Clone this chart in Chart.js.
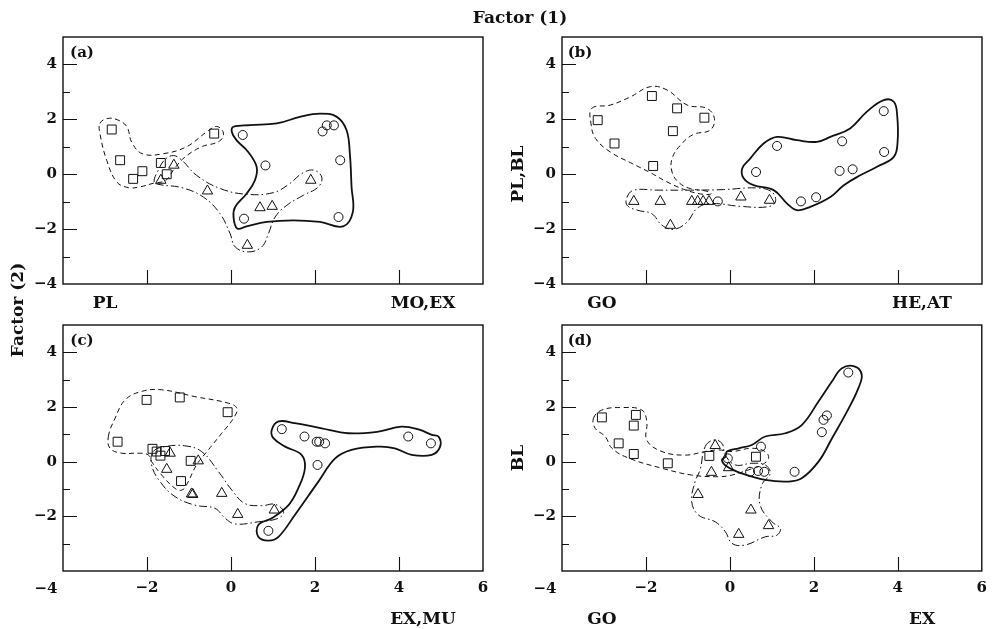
<!DOCTYPE html>
<html>
<head>
<meta charset="utf-8">
<script src="https://cdn.jsdelivr.net/npm/chart.js@4.4.1/dist/chart.umd.min.js"></script>
<style>
  body { margin: 0; background: #fff; }
  #wrap { position: relative; width: 995px; height: 629px; overflow: hidden; }
  #wrap canvas { position: absolute; left: 0; top: 0; }
  .lbl { position: absolute; font-family: "DejaVu Serif", serif; font-weight: bold; color: #111; white-space: nowrap; transform: translate(-50%, -50%); }
  .rot { transform: translate(-50%, -50%) rotate(-90deg); }
</style>
</head>
<body>
<div id="wrap">
  <canvas id="chartA" width="995" height="629"></canvas>
  <canvas id="chartB" width="995" height="629"></canvas>
  <canvas id="chartC" width="995" height="629"></canvas>
  <canvas id="chartD" width="995" height="629"></canvas>
</div>
<script>
// ---- panel (a): PL vs MO,EX
const aSquares = [[-2.84,1.63],[-2.64,0.51],[-2.33,-0.17],[-2.11,0.11],[-1.67,0.41],[-1.53,0.0],[-0.40,1.48]];
const aTriangles = [[-1.36,0.33],[-1.67,-0.22],[-0.56,-0.61],[0.69,-1.22],[0.98,-1.17],[0.39,-2.59],[1.90,-0.22]];
const aCircles = [[0.28,1.43],[0.82,0.32],[0.31,-1.62],[2.18,1.56],[2.28,1.78],[2.45,1.78],[2.60,0.51],[2.56,-1.56]];
const aSquareHull = [[-3.12,1.85],[-2.95,2.03],[-2.70,1.98],[-2.48,1.73],[-2.36,1.15],[-2.10,0.74],[-1.60,0.75],[-1.06,1.0],[-0.58,1.54],[-0.34,1.74],[-0.18,1.50],[-0.28,1.20],[-0.70,1.0],[-1.10,0.62],[-1.35,0.20],[-1.55,-0.22],[-1.85,-0.33],[-2.17,-0.46],[-2.44,-0.49],[-2.72,-0.28],[-2.96,0.51],[-3.12,1.48]];
const aTriangleHull = [[-1.83,-0.28],[-1.73,0.15],[-1.57,0.54],[-1.37,0.68],[-1.17,0.51],[-0.82,-0.04],[-0.26,-0.52],[0.37,-0.73],[1.01,-0.67],[1.40,-0.34],[1.68,0.02],[1.96,0.15],[2.16,-0.10],[2.08,-0.46],[1.72,-0.77],[1.33,-1.13],[1.05,-1.56],[0.89,-2.17],[0.73,-2.65],[0.41,-2.83],[0.10,-2.65],[-0.02,-2.17],[-0.26,-1.44],[-0.66,-0.83],[-1.17,-0.49],[-1.69,-0.38]];
const aCircleHull = [[0.06,1.73],[0.45,1.79],[1.09,1.85],[1.64,2.09],[2.12,2.21],[2.52,2.09],[2.75,1.61],[2.83,0.75],[2.87,-0.46],[2.90,-1.38],[2.67,-1.90],[2.12,-1.74],[1.48,-1.68],[0.85,-1.74],[0.37,-1.90],[0.15,-1.98],[0.06,-1.56],[0.10,-1.19],[0.37,-0.71],[0.57,-0.22],[0.61,0.27],[0.41,0.81],[0.13,1.24],[0.02,1.54]];

// ---- panel (b): GO vs HE,AT
const bSquares = [[-3.15,1.97],[-2.75,1.12],[-1.86,2.85],[-1.83,0.30],[-1.26,2.40],[-1.36,1.57],[-0.61,2.06]];
const bTriangles = [[-2.29,-0.99],[-1.66,-0.99],[-1.42,-1.86],[-0.91,-0.99],[-0.77,-0.99],[-0.64,-0.99],[-0.50,-0.99],[0.26,-0.83],[0.94,-0.95]];
const bCircles = [[-0.29,-0.99],[0.62,0.08],[1.12,1.03],[1.69,-0.99],[2.05,-0.84],[2.67,1.20],[2.61,0.12],[2.92,0.18],[3.66,2.30],[3.67,0.81]];
const bSquareHull = [[-3.29,2.40],[-2.85,2.52],[-2.37,2.82],[-1.90,3.19],[-1.50,3.07],[-1.02,2.52],[-0.55,2.40],[-0.37,2.03],[-0.47,1.61],[-0.87,1.45],[-1.18,1.06],[-1.38,0.57],[-1.38,0.08],[-1.22,-0.30],[-0.95,-0.52],[-0.55,-0.62],[-0.45,-0.72],[-0.70,-0.72],[-1.10,-0.55],[-1.50,-0.28],[-1.90,0.06],[-2.37,0.42],[-2.85,0.81],[-3.20,1.30],[-3.31,1.85]];
const bTriangleHull = [[-2.45,-0.83],[-2.29,-0.58],[-1.74,-0.58],[-0.94,-0.58],[-0.15,-0.56],[0.64,-0.50],[1.00,-0.65],[1.08,-1.01],[0.88,-1.19],[0.25,-1.17],[-0.47,-1.07],[-0.79,-1.25],[-1.02,-1.74],[-1.34,-2.01],[-1.62,-1.86],[-1.86,-1.44],[-2.21,-1.31],[-2.45,-1.13]];
const bCircleHull = [[0.29,0.21],[0.48,0.57],[0.80,1.12],[1.12,1.36],[1.59,1.24],[2.07,1.18],[2.39,1.36],[2.86,1.67],[3.26,2.28],[3.66,2.70],[3.90,2.64],[3.98,2.15],[3.99,1.18],[3.90,0.63],[3.50,0.27],[3.10,-0.04],[2.71,-0.40],[2.39,-0.83],[1.91,-1.19],[1.59,-1.31],[1.36,-1.07],[1.04,-0.58],[0.56,-0.40],[0.33,-0.16]];

// ---- panel (c): EX,MU
const cSquares = [[-2.70,0.73],[-2.01,2.26],[-1.22,2.35],[-0.08,1.81],[-1.87,0.47],[-1.77,0.37],[-1.68,0.22],[-1.57,0.39],[-0.96,0.03],[-1.19,-0.71]];
const cTriangles = [[-1.45,0.31],[-1.53,-0.28],[-0.78,0.03],[-0.94,-1.18],[-0.91,-1.20],[-0.22,-1.16],[0.16,-1.93],[1.03,-1.77]];
const cCircles = [[0.89,-2.53],[1.21,1.19],[1.75,0.92],[2.04,0.73],[2.10,0.73],[2.24,0.67],[2.06,-0.12],[4.22,0.92],[4.76,0.67]];
const cSquareHull = [[-2.92,0.92],[-2.76,1.59],[-2.52,2.26],[-2.13,2.57],[-1.65,2.63],[-0.86,2.38],[-0.06,2.14],[0.14,1.95],[0.06,1.59],[-0.22,1.04],[-0.54,0.43],[-0.82,-0.12],[-1.06,-0.85],[-1.17,-1.04],[-1.33,-0.98],[-1.65,-0.49],[-1.89,0.0],[-1.97,0.25],[-2.21,0.31],[-2.60,0.31],[-2.88,0.49]];
const cTriangleHull = [[-1.85,0.37],[-1.57,0.55],[-1.10,0.58],[-0.70,0.37],[-0.30,-0.36],[0.02,-1.04],[0.33,-1.53],[0.73,-1.61],[1.05,-1.56],[1.25,-1.83],[1.13,-2.07],[0.65,-2.20],[0.10,-2.28],[-0.14,-2.07],[-0.38,-1.71],[-0.86,-1.59],[-1.33,-1.28],[-1.69,-0.73],[-1.89,-0.12]];
const cCircleHull = [[0.97,1.16],[1.13,1.47],[1.52,1.41],[2.16,1.22],[2.79,1.04],[3.51,1.10],[4.06,1.28],[4.50,1.16],[4.78,0.98],[4.94,0.92],[4.98,0.55],[4.78,0.25],[4.30,0.25],[3.90,0.49],[3.51,0.55],[2.87,0.43],[2.48,0.12],[2.08,-0.73],[1.52,-1.95],[1.13,-2.75],[0.89,-2.89],[0.65,-2.75],[0.65,-2.32],[0.97,-2.07],[1.37,-1.59],[1.60,-0.98],[1.76,-0.24],[1.68,0.25],[1.29,0.55],[1.01,0.86]];

// ---- panel (d): GO vs EX
const dSquares = [[-3.05,1.62],[-2.24,1.71],[-2.29,1.32],[-2.65,0.67],[-2.29,0.28],[-1.48,-0.06],[-0.49,0.21],[0.62,0.18]];
const dTriangles = [[-0.35,0.59],[-0.44,-0.39],[-0.03,-0.22],[-0.76,-1.20],[0.50,-1.77],[0.21,-2.66],[0.92,-2.34]];
const dCircles = [[2.82,3.26],[2.31,1.69],[2.23,1.53],[2.19,1.08],[-0.05,0.12],[0.74,0.55],[0.48,-0.37],[0.67,-0.34],[0.82,-0.37],[1.54,-0.37]];
const dSquareHull = [[-3.25,1.59],[-3.05,1.89],[-2.57,1.98],[-2.10,1.89],[-1.98,1.47],[-1.98,0.79],[-1.62,0.37],[-1.06,0.24],[-0.59,0.37],[-0.27,0.43],[0.05,0.37],[0.52,0.49],[0.84,0.37],[0.92,0.12],[0.76,-0.12],[0.44,-0.30],[0.05,-0.49],[-0.27,-0.55],[-0.91,-0.49],[-1.62,-0.24],[-2.41,0.13],[-2.81,0.49],[-2.97,0.92],[-3.21,1.22]];
const dTriangleHull = [[-0.59,0.55],[-0.39,0.79],[-0.19,0.67],[-0.11,0.24],[0.13,-0.12],[0.52,-0.06],[0.84,-0.12],[0.96,-0.43],[0.76,-0.85],[0.72,-1.59],[1.00,-2.20],[1.20,-2.44],[1.12,-2.69],[0.84,-2.75],[0.36,-3.05],[0.05,-2.99],[-0.11,-2.56],[-0.35,-2.20],[-0.75,-1.95],[-0.91,-1.46],[-0.83,-0.73],[-0.71,-0.30]];
const dCircleHull = [[-0.11,0.18],[-0.19,0.06],[-0.07,-0.18],[0.28,-0.43],[0.84,-0.67],[1.40,-0.73],[1.71,-0.61],[2.11,0.00],[2.43,0.85],[2.83,1.95],[3.06,2.69],[3.14,3.18],[2.98,3.48],[2.67,3.42],[2.43,2.93],[2.11,2.20],[1.71,1.34],[1.32,1.04],[0.84,0.92],[0.52,0.61],[0.21,0.49],[-0.07,0.37]];

// axes
const xMin = -4, xMax = 6, xStep = 2;
const yMin = -4, yMax = 5, yStep = 1;

const FONT = '"DejaVu Serif", serif';
const minus = v => v < 0 ? '\u2212' + (-v) : String(v);

const pts = arr => arr.map(([x, y]) => ({ x, y }));
// closed smooth loop: pad with neighbours so the spline wraps, hide the two padding segments
const loop = arr => pts([arr[arr.length - 1]].concat(arr, [arr[0], arr[1]]));

// box + inward ticks taken from the scales
const frame = {
    id: 'frame',
    afterDraw(chart) {
        const { ctx, chartArea: a, scales: { x, y } } = chart;
        ctx.save();
        ctx.strokeStyle = '#111';
        ctx.lineWidth = 1.4;
        ctx.strokeRect(a.left, a.top, a.right - a.left, a.bottom - a.top);
        ctx.lineWidth = 1.1;
        ctx.beginPath();
        x.ticks.forEach(t => {
            if (t.value <= xMin || t.value >= xMax) return;
            const px = Math.round(x.getPixelForValue(t.value)) + 0.5;
            ctx.moveTo(px, a.bottom);
            ctx.lineTo(px, a.bottom - 14);
        });
        y.ticks.forEach(t => {
            if (t.value <= yMin || t.value >= yMax) return;
            const py = Math.round(y.getPixelForValue(t.value)) + 0.5;
            ctx.moveTo(a.left, py);
            ctx.lineTo(a.left + (t.value % 2 === 0 ? 14 : 7), py);
        });
        ctx.stroke();
        ctx.restore();
    }
};

function makePanel(id, area, squares, triangles, circles, sqHull, triHull, circHull, bottomPanel) {
    const hull = (arr, dash, width) => {
        const last = arr.length + 2;
        return {
            data: loop(arr), showLine: true, pointRadius: 0, borderColor: '#111',
            borderWidth: width, borderDash: dash, tension: 0.4, fill: false,
            segment: { borderColor: c => (c.p0DataIndex === 0 || c.p1DataIndex === last) ? 'rgba(0,0,0,0)' : '#111' }
        };
    };
    const marks = (arr, style, r) => ({
        data: pts(arr), pointStyle: style, pointRadius: r, borderColor: '#111',
        borderWidth: 1, backgroundColor: 'rgba(0,0,0,0)', showLine: false
    });
    return new Chart(document.getElementById(id), {
        type: 'scatter',
        data: {
            datasets: [
                hull(sqHull, [5, 3.5], 1),
                hull(triHull, [8, 3, 1.5, 3], 1),
                hull(circHull, [], 1.8),
                marks(squares, 'rect', 6.3),
                marks(triangles, 'triangle', 6),
                marks(circles, 'circle', 4.5),
            ]
        },
        options: {
            responsive: false, animation: false, events: [],
            layout: { padding: { left: area.left - 40, top: area.top, right: 995 - area.right, bottom: 629 - area.bottom - 30 } },
            plugins: { legend: { display: false }, tooltip: { enabled: false } },
            scales: {
                x: {
                    type: 'linear', min: xMin, max: xMax,
                    grid: { display: false, drawTicks: false }, border: { display: false },
                    afterFit: s => { s.height = 30; },
                    ticks: {
                        display: bottomPanel, stepSize: xStep, padding: 8, maxRotation: 0,
                        color: '#111', font: { family: FONT, size: 15, weight: 'bold' },
                        callback: v => v === xMin ? '' : minus(v)
                    }
                },
                y: {
                    type: 'linear', min: yMin, max: yMax,
                    grid: { display: false, drawTicks: false }, border: { display: false },
                    afterFit: s => { s.width = 40; },
                    ticks: {
                        stepSize: yStep, padding: 6, color: '#111',
                        font: { family: FONT, size: 15, weight: 'bold' },
                        callback: v => (v % 2 === 0 && v < yMax && (v > yMin || !bottomPanel)) ? minus(v) : ''
                    }
                }
            }
        },
        plugins: [frame]
    });
}

makePanel('chartA', { left: 63, top: 37, right: 483, bottom: 284 }, aSquares, aTriangles, aCircles, aSquareHull, aTriangleHull, aCircleHull, false);
makePanel('chartB', { left: 562, top: 37, right: 982, bottom: 284 }, bSquares, bTriangles, bCircles, bSquareHull, bTriangleHull, bCircleHull, false);
makePanel('chartC', { left: 63, top: 325, right: 483, bottom: 571 }, cSquares, cTriangles, cCircles, cSquareHull, cTriangleHull, cCircleHull, true);
makePanel('chartD', { left: 562, top: 325, right: 982, bottom: 571 }, dSquares, dTriangles, dCircles, dSquareHull, dTriangleHull, dCircleHull, true);

// text labels
const labels = [
    ['Factor (1)', 520, 17, 17, false],
    ['Factor (2)', 17, 310, 17, true],
    ['PL,BL', 517, 174, 17, true],
    ['BL', 517, 458, 17, true],
    ['PL', 105, 302, 17, false],
    ['MO,EX', 423, 302, 17, false],
    ['GO', 602, 302, 17, false],
    ['HE,AT', 922, 302, 17, false],
    ['EX,MU', 423, 618, 17, false],
    ['GO', 602, 618, 17, false],
    ['EX', 922, 618, 17, false],
    ['(a)', 82, 52, 15, false],
    ['(b)', 580, 52, 15, false],
    ['(c)', 82, 340, 15, false],
    ['(d)', 580, 340, 15, false],
    ['\u22124', 46, 588, 15, false],
    ['\u22124', 545, 588, 15, false],
];
const wrap = document.getElementById('wrap');
labels.forEach(([text, x, y, size, rot]) => {
    const d = document.createElement('div');
    d.className = 'lbl' + (rot ? ' rot' : '');
    d.textContent = text;
    d.style.left = x + 'px';
    d.style.top = y + 'px';
    d.style.fontSize = size + 'px';
    wrap.appendChild(d);
});
</script>
</body>
</html>
